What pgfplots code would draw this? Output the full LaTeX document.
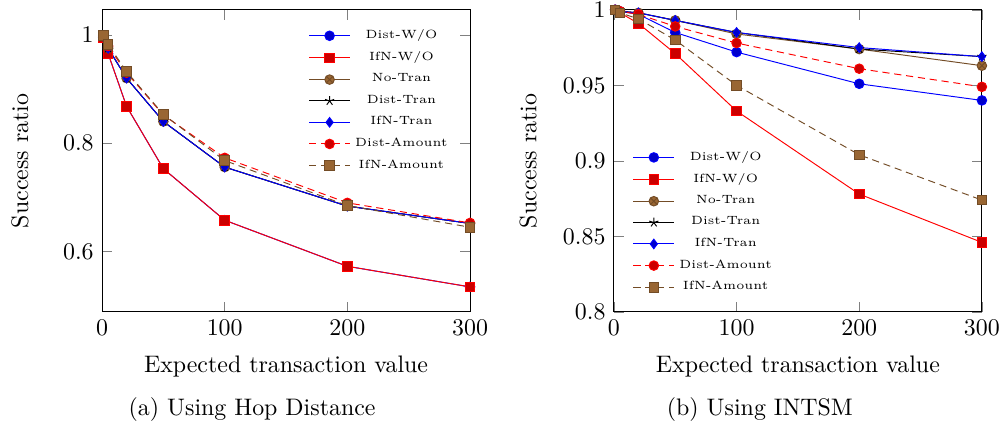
\documentclass[border=0pt]{standalone}
\usepackage{pgfplots}
\pgfplotsset{compat=1.18}
\pgfplotsset{
  mystyle/.style={
    scale only axis, width=154pt, height=126.4pt,
    xmin=0, xmax=300, xtick={0,100,200,300},
    xlabel={Expected transaction value}, ylabel={Success ratio},
    x label style={at={(axis description cs:0.5,-0.182)},anchor=center},
    legend style={font=\tiny, draw=none, fill=none},
  },
  s1/.style={blue, mark=*, mark options={fill=blue!80!black}},
  s2/.style={red, mark=square*, mark options={fill=red!80!black}},
  s3/.style={brown!60!black, mark=otimes*, mark options={fill=brown!80!black}},
  s4/.style={black, mark=star},
  s5/.style={blue, mark=diamond*, mark options={fill=blue!80!black}},
  s6/.style={red, densely dashed, mark=*, mark options={solid, fill=red!80!black}},
  s7/.style={brown!60!black, densely dashed, mark=square*, mark options={solid, fill=brown!80!black}},
}
\begin{document}
\begin{tikzpicture}
\useasboundingbox (-42.7pt,-46.9pt) rectangle (376.2pt,130.5pt);
\begin{axis}[mystyle, at={(0pt,0pt)}, anchor=origin,
  ymin=0.489, ymax=1.046, ytick={0.6,0.8,1},
  y label style={at={(axis description cs:-0.223,0.5)},anchor=center},
  legend style={at={(0.973,0.968)},anchor=north east}]
\addplot[s1] coordinates {(1,0.995) (5,0.965) (20,0.868) (50,0.753) (100,0.658) (200,0.573) (300,0.535)};
\addplot[s2] coordinates {(1,0.995) (5,0.965) (20,0.868) (50,0.753) (100,0.658) (200,0.573) (300,0.535)};
\addplot[s3] coordinates {(1,0.997) (5,0.975) (20,0.920) (50,0.840) (100,0.756) (200,0.684) (300,0.652)};
\addplot[s4] coordinates {(1,0.997) (5,0.975) (20,0.920) (50,0.840) (100,0.756) (200,0.684) (300,0.652)};
\addplot[s5] coordinates {(1,0.997) (5,0.975) (20,0.920) (50,0.840) (100,0.756) (200,0.684) (300,0.652)};
\addplot[s6] coordinates {(1,0.998) (5,0.979) (20,0.930) (50,0.852) (100,0.773) (200,0.690) (300,0.653)};
\addplot[s7] coordinates {(1,0.999) (5,0.982) (20,0.932) (50,0.853) (100,0.768) (200,0.685) (300,0.645)};
\legend{Dist-W/O,IfN-W/O,No-Tran,Dist-Tran,IfN-Tran,Dist-Amount,IfN-Amount}
\end{axis}
\begin{axis}[mystyle, at={(214.2pt,0pt)}, anchor=origin,
  ymin=0.8, ymax=1, ytick={0.8,0.85,0.9,0.95,1},
  y label style={at={(axis description cs:-0.233,0.5)},anchor=center},
  legend style={at={(0.031,0.028)},anchor=south west}]
\addplot[s1] coordinates {(1,1.0) (5,0.999) (20,0.997) (50,0.985) (100,0.972) (200,0.951) (300,0.940)};
\addplot[s2] coordinates {(1,1.0) (5,0.998) (20,0.991) (50,0.971) (100,0.933) (200,0.878) (300,0.846)};
\addplot[s3] coordinates {(1,1.0) (5,0.999) (20,0.998) (50,0.993) (100,0.984) (200,0.974) (300,0.963)};
\addplot[s4] coordinates {(1,1.0) (5,0.999) (20,0.998) (50,0.993) (100,0.985) (200,0.974) (300,0.969)};
\addplot[s5] coordinates {(1,1.0) (5,0.999) (20,0.998) (50,0.993) (100,0.985) (200,0.975) (300,0.969)};
\addplot[s6] coordinates {(1,1.0) (5,0.999) (20,0.997) (50,0.989) (100,0.978) (200,0.961) (300,0.949)};
\addplot[s7] coordinates {(1,1.0) (5,0.998) (20,0.994) (50,0.980) (100,0.950) (200,0.904) (300,0.874)};
\legend{Dist-W/O,IfN-W/O,No-Tran,Dist-Tran,IfN-Tran,Dist-Amount,IfN-Amount}
\end{axis}
\node at (62.8pt,-41pt) {(a) Using Hop Distance};
\node at (275.3pt,-41pt) {(b) Using INTSM};
\end{tikzpicture}
\end{document}
